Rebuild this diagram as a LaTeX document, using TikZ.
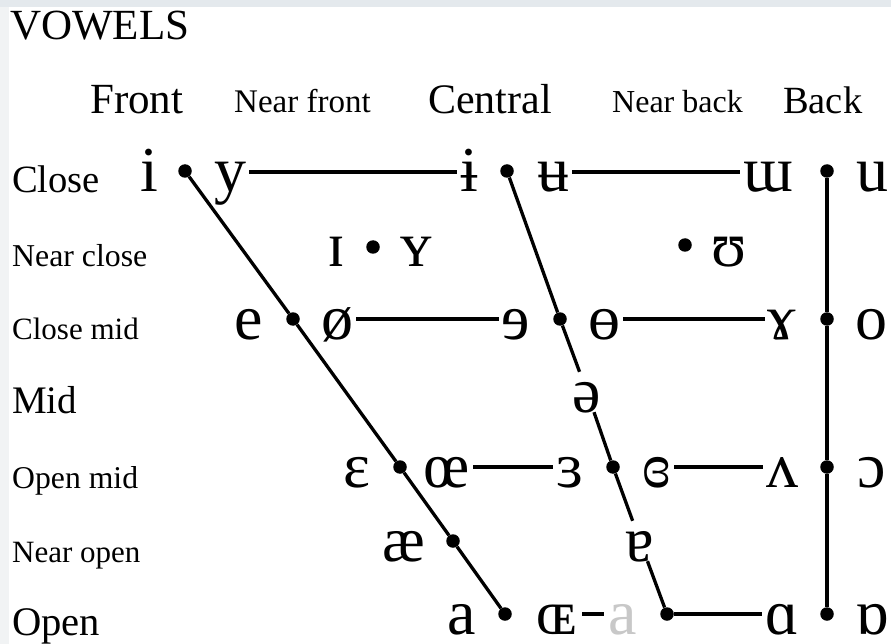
\documentclass[tikz,border=0pt]{standalone}
\usepackage{fontspec}
\setmainfont{Liberation Serif}
\definecolor{topgray}{HTML}{E4E9ED}
\definecolor{leftgray}{HTML}{F1F3F4}
\definecolor{fadegray}{HTML}{C8C8C8}
\tikzset{
  vw/.style={font=\fontsize{64}{72}\selectfont, anchor=base, inner xsep=3pt, inner ysep=0pt, text height=40pt, text depth=0pt},
  lab/.style={anchor=base west, inner sep=0pt},
  dotn/.style={circle, fill=black, inner sep=0pt, minimum size=13.5pt},
  conn/.style={line width=3.3pt},
}
\begin{document}
\begin{tikzpicture}[x=1pt,y=-1pt]
\useasboundingbox (0,0) rectangle (891,644);
\fill[white] (0,0) rectangle (891,644);
\fill[leftgray] (0,0) rectangle (9,644);
\fill[topgray] (0,0) rectangle (891,7);
% title and headers
\node[lab, font=\fontsize{43}{50}\selectfont] (title) at (10,40) {VOWELS};
\node[lab, font=\fontsize{43}{50}\selectfont] (hfront) at (90,114) {Front};
\node[lab, font=\fontsize{33}{40}\selectfont] (hnfront) at (234,113) {Near front};
\node[lab, font=\fontsize{42}{50}\selectfont] (hcentral) at (428,114) {Central};
\node[lab, font=\fontsize{32}{40}\selectfont] (hnback) at (612,113) {Near back};
\node[lab, font=\fontsize{38.5}{46}\selectfont] (hback) at (783,114) {Back};
% row labels
\node[lab, font=\fontsize{38.6}{46}\selectfont] (rclose) at (12,193) {Close};
\node[lab, font=\fontsize{31.8}{38}\selectfont] (rnclose) at (12,267) {Near close};
\node[lab, font=\fontsize{31}{38}\selectfont] (rcmid) at (12,339) {Close mid};
\node[lab, font=\fontsize{39}{46}\selectfont] (rmid) at (12,413) {Mid};
\node[lab, font=\fontsize{31.7}{38}\selectfont] (romid) at (12,488) {Open mid};
\node[lab, font=\fontsize{31}{38}\selectfont] (rnopen) at (12,562) {Near open};
\node[lab, font=\fontsize{40.6}{48}\selectfont] (ropen) at (12,635) {Open};
% dots
\node[dotn] (fC) at (185,171) {};
\node[dotn] (fCM) at (293,319) {};
\node[dotn] (fOM) at (400,467) {};
\node[dotn] (fNO) at (453,541) {};
\node[dotn] (fO) at (505,614) {};
\node[dotn] (cC) at (507,171) {};
\node[dotn] (cCM) at (560,319) {};
\node[dotn] (cOM) at (613,467) {};
\node[dotn] (cO) at (667,614) {};
\node[dotn] (bC) at (827,171) {};
\node[dotn] (bCM) at (827,319) {};
\node[dotn] (bOM) at (827,467) {};
\node[dotn] (bO) at (827,614) {};
\node[dotn] (nfNC) at (373,247) {};
\node[dotn] (nbNC) at (685,245) {};
% close
\node[vw] (vi) at (149,192) {i};
\node[vw] (vy) at (230,192) {y};
\node[vw] (vbi) at (469,192) {ɨ};
\node[vw] (vbu) at (553,192) {ʉ};
\node[vw] (vmu) at (768,192) {ɯ};
\node[vw] (vu) at (872,192) {u};
% near close
\node[vw] (vsi) at (336,266) {ɪ};
\node[vw] (vsy) at (416,266) {ʏ};
\node[vw] (vsu) at (729,266) {ʊ};
% close mid
\node[vw] (ve) at (249,339) {e};
\node[vw] (vo2) at (337,339) {ø};
\node[vw] (vre) at (516,339) {ɘ};
\node[vw] (vbo) at (604,339) {ɵ};
\node[vw] (vram) at (782,339) {ɤ};
\node[vw] (vo) at (871,339) {o};
% mid
\node[vw] (vschwa) at (587,412) {ə};
% open mid
\node[vw] (veps) at (357,487) {ɛ};
\node[vw] (voe) at (447,487) {œ};
\node[vw] (vreps) at (570,487) {ɜ};
\node[vw] (vcreps) at (657,487) {ɞ};
\node[vw] (vwedge) at (782,487) {ʌ};
\node[vw] (vopeno) at (872,487) {ɔ};
% near open
\node[vw] (vae) at (404,561) {æ};
\node[vw] (vturna) at (640,561) {ɐ};
% open
\node[vw] (va) at (462,634) {a};
\node[vw] (vsoe) at (557,634) {ɶ};
\node[vw, text=fadegray] (vga) at (623,634) {a};
\node[vw] (vscripta) at (782,634) {ɑ};
\node[vw] (vturnscripta) at (872,634) {ɒ};
% connectors
\draw[conn] (fC) -- (fCM) -- (fOM) -- (fNO) -- (fO);
\draw[conn] (cC) -- (cCM) -- (vschwa) -- (cOM) -- (vturna) -- (cO);
\draw[conn] (bC) -- (bCM) -- (bOM) -- (bO);
\draw[conn] (vy) -- (vbi);
\draw[conn] (vbu) -- (vmu);
\draw[conn] (vo2) -- (vre);
\draw[conn] (vbo) -- (vram);
\draw[conn] (voe) -- (vreps);
\draw[conn] (vcreps) -- (vwedge);
\draw[conn] (cO) -- (vscripta);
\draw[conn, shorten <=2pt, shorten >=2pt] (vsoe) -- (vga);
\end{tikzpicture}
\end{document}
